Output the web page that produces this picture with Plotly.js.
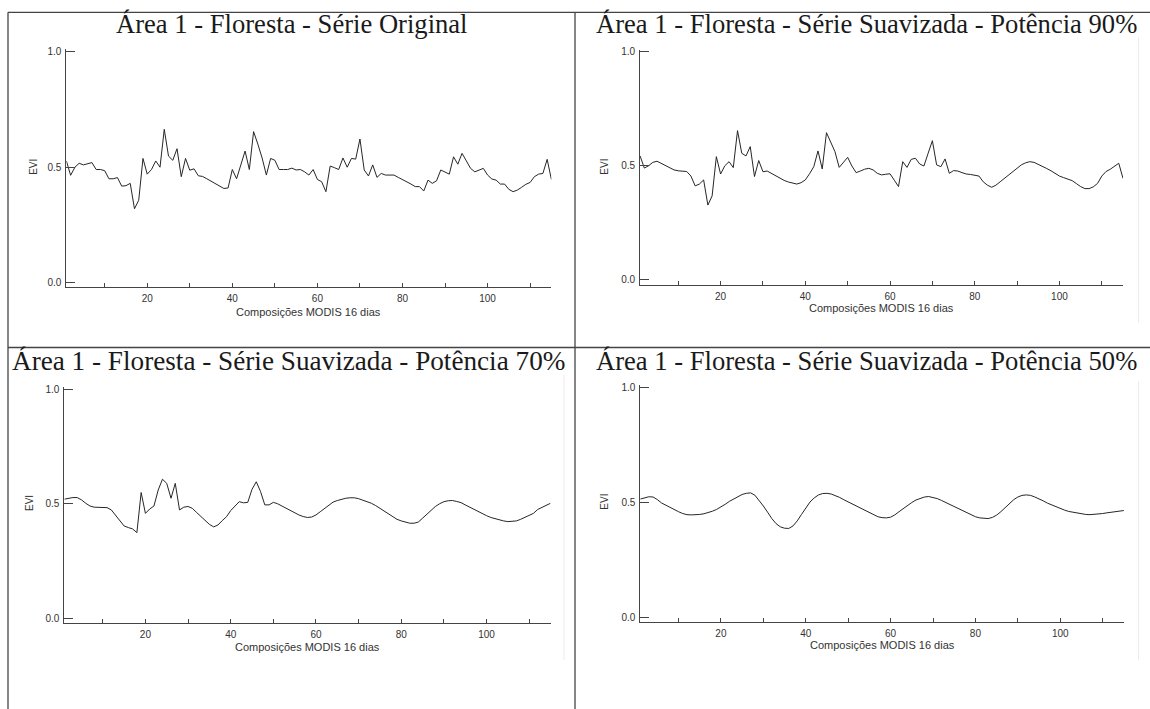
<!DOCTYPE html>
<html>
<head>
<meta charset="utf-8">
<script src="https://cdn.plot.ly/plotly-3.0.1.min.js"></script>
<style>html,body{margin:0;padding:0;background:#fff;}#chart{width:1150px;height:709px;}</style>
</head>
<body>
<div id="chart"></div>
<script>
// Composition index (MODIS 16-day composites)
var composicoes = [1,2,3,4,5,6,7,8,9,10,11,12,13,14,15,16,17,18,19,20,21,22,23,24,25,26,27,28,29,30,
31,32,33,34,35,36,37,38,39,40,41,42,43,44,45,46,47,48,49,50,51,52,53,54,55,56,57,58,59,60,
61,62,63,64,65,66,67,68,69,70,71,72,73,74,75,76,77,78,79,80,81,82,83,84,85,86,87,88,89,90,
91,92,93,94,95,96,97,98,99,100,101,102,103,104,105,106,107,108,109,110,111,112,113,114,115];

var serieOriginal = [0.527,0.465,0.50,0.517,0.51,0.515,0.52,0.49,0.49,0.485,
0.45,0.45,0.455,0.418,0.42,0.43,0.32,0.357,0.538,0.47,
0.49,0.527,0.50,0.664,0.548,0.53,0.58,0.459,0.538,0.487,
0.493,0.463,0.46,0.45,0.44,0.43,0.42,0.408,0.41,0.49,
0.45,0.51,0.57,0.49,0.654,0.60,0.54,0.466,0.538,0.53,
0.49,0.49,0.49,0.496,0.488,0.49,0.48,0.466,0.49,0.447,
0.437,0.394,0.505,0.498,0.49,0.54,0.50,0.538,0.535,0.622,
0.488,0.462,0.51,0.456,0.473,0.466,0.466,0.466,0.456,0.447,
0.437,0.427,0.416,0.416,0.397,0.444,0.43,0.441,0.488,0.48,
0.47,0.545,0.513,0.56,0.528,0.495,0.48,0.488,0.495,0.466,
0.449,0.444,0.427,0.427,0.404,0.394,0.401,0.413,0.426,0.434,
0.459,0.47,0.473,0.534,0.447];

var suavizada90 = [0.543,0.49,0.50,0.515,0.52,0.51,0.50,0.49,0.482,0.478,
0.477,0.475,0.455,0.412,0.42,0.438,0.328,0.368,0.54,0.464,
0.50,0.518,0.492,0.654,0.555,0.543,0.584,0.453,0.523,0.474,
0.477,0.467,0.455,0.444,0.436,0.429,0.424,0.42,0.426,0.438,
0.465,0.496,0.565,0.486,0.645,0.606,0.562,0.493,0.514,0.537,
0.499,0.47,0.477,0.485,0.489,0.482,0.467,0.46,0.463,0.465,
0.437,0.409,0.518,0.493,0.528,0.533,0.508,0.499,0.555,0.61,
0.504,0.496,0.53,0.467,0.479,0.477,0.47,0.464,0.462,0.46,
0.455,0.43,0.415,0.406,0.415,0.43,0.445,0.46,0.474,0.49,
0.504,0.513,0.518,0.515,0.507,0.497,0.488,0.478,0.465,0.455,
0.448,0.442,0.435,0.422,0.409,0.40,0.40,0.408,0.423,0.455,
0.475,0.485,0.498,0.511,0.445];

var suavizada70 = [0.52,0.525,0.527,0.527,0.517,0.502,0.49,0.485,0.484,0.484,
0.483,0.473,0.45,0.43,0.403,0.396,0.39,0.374,0.549,0.458,
0.477,0.49,0.56,0.607,0.589,0.524,0.589,0.473,0.485,0.488,
0.48,0.462,0.444,0.425,0.41,0.399,0.407,0.426,0.443,0.47,
0.49,0.509,0.504,0.506,0.563,0.596,0.553,0.495,0.495,0.506,
0.50,0.49,0.48,0.473,0.462,0.451,0.444,0.44,0.442,0.451,
0.465,0.48,0.495,0.507,0.514,0.52,0.524,0.526,0.526,0.522,
0.516,0.509,0.502,0.492,0.48,0.47,0.455,0.443,0.432,0.425,
0.419,0.415,0.415,0.42,0.437,0.455,0.47,0.488,0.50,0.509,
0.513,0.514,0.51,0.505,0.495,0.485,0.475,0.465,0.455,0.448,
0.44,0.434,0.429,0.425,0.422,0.422,0.425,0.432,0.44,0.45,
0.458,0.475,0.485,0.495,0.502];

var suavizada50 = [0.515,0.521,0.525,0.524,0.513,0.498,0.488,0.478,0.468,0.46,
0.452,0.447,0.446,0.446,0.448,0.451,0.456,0.462,0.47,0.48,
0.492,0.505,0.516,0.527,0.535,0.54,0.542,0.532,0.51,0.485,
0.458,0.43,0.408,0.394,0.388,0.387,0.398,0.42,0.448,0.477,
0.502,0.52,0.533,0.539,0.54,0.537,0.531,0.522,0.512,0.503,
0.494,0.485,0.476,0.466,0.455,0.446,0.438,0.434,0.433,0.436,
0.446,0.46,0.474,0.488,0.50,0.511,0.519,0.524,0.526,0.523,
0.517,0.509,0.50,0.491,0.482,0.473,0.464,0.454,0.445,0.438,
0.433,0.43,0.43,0.435,0.445,0.46,0.477,0.495,0.512,0.524,
0.531,0.533,0.531,0.524,0.517,0.507,0.497,0.489,0.481,0.474,
0.467,0.461,0.457,0.454,0.451,0.448,0.447,0.448,0.45,0.452,
0.455,0.458,0.461,0.463,0.465];

var titulos = ["Área 1 - Floresta - Série Original",
               "Área 1 - Floresta - Série Suavizada - Potência 90%",
               "Área 1 - Floresta - Série Suavizada - Potência 70%",
               "Área 1 - Floresta - Série Suavizada - Potência 50%"];
var xTitulo = "Composições MODIS 16 dias";
var yTitulo = "EVI";
var xTickVals = [10,20,30,40,50,60,70,80,90,100,110];
var xTickText = ["","20","","40","","60","","80","","100",""];
var yTickVals = [0,0.5,1.0];
var yTickText = ["0.0","0.5","1.0"];

var W = 1150, H = 709;
function px(x){return x/W;}
function py(y){return 1 - y/H;}

// panel geometry in pixels: [xLeft, xRight, yTop, yBottom, yMin, yMax]
var geo = [
  [66.4, 551.4, 48.5, 287.3, -0.020, 1.014],
  [640.1, 1123.0, 50.0, 285.0, -0.022, 1.007],
  [64.4, 550.5, 386.7, 623.3, -0.022, 1.011],
  [640.3, 1123.9, 385.0, 622.3, -0.022, 1.012]
];
var series = [serieOriginal, suavizada90, suavizada70, suavizada50];

var data = [];
var layout = {
  width: W, height: H,
  margin: {l:0, r:0, t:0, b:0},
  paper_bgcolor: '#ffffff', plot_bgcolor: 'rgba(0,0,0,0)',
  showlegend: false,
  annotations: [], shapes: []
};
var tickFont = {family: 'Liberation Sans, Arial, sans-serif', size: 10, color: '#333'};

for (var i = 0; i < 4; i++) {
  var g = geo[i];
  var xa = 'xaxis' + (i === 0 ? '' : (i + 1));
  var ya = 'yaxis' + (i === 0 ? '' : (i + 1));
  data.push({
    type: 'scatter', mode: 'lines',
    x: composicoes, y: series[i],
    xaxis: 'x' + (i === 0 ? '' : (i + 1)),
    yaxis: 'y' + (i === 0 ? '' : (i + 1)),
    line: {color: '#262626', width: 1},
    hoverinfo: 'x+y'
  });
  layout[xa] = {
    domain: [px(g[0]), px(g[1])],
    anchor: 'y' + (i === 0 ? '' : (i + 1)),
    range: [1, 115],
    showline: true, linecolor: '#444', linewidth: 1,
    showgrid: false, zeroline: false,
    ticks: 'inside', ticklen: 4, tickcolor: '#444', tickwidth: 1,
    tickmode: 'array', tickvals: xTickVals, ticktext: xTickText,
    tickfont: tickFont, ticklabelstandoff: 2
  };
  layout[ya] = {
    domain: [py(g[3]), py(g[2])],
    anchor: 'x' + (i === 0 ? '' : (i + 1)),
    range: [g[4], g[5]],
    showline: true, linecolor: '#444', linewidth: 1,
    showgrid: false, zeroline: false,
    ticks: 'inside', ticklen: 9, tickcolor: '#444', tickwidth: 1,
    tickmode: 'array', tickvals: yTickVals, ticktext: yTickText,
    tickfont: tickFont, ticklabelstandoff: 2
  };
}

// titles and axis titles
var titlePos = [[291.5, 24, 26.6], [866, 24, 26.6], [288, 361, 27.2], [866, 361, 26.6]];
var xtPos = [[308.9, 311.5], [881.5, 307.5], [307.4, 646.5], [882, 645]];
var ytPos = [[33.5, 167.3], [605, 166.7], [29, 503], [605, 501.7]];
for (var j = 0; j < 4; j++) {
  layout.annotations.push({
    text: titulos[j], xref: 'paper', yref: 'paper',
    x: px(titlePos[j][0]), y: py(titlePos[j][1]),
    xanchor: 'center', yanchor: 'middle', showarrow: false,
    font: {family: 'Liberation Serif, Times New Roman, serif', size: titlePos[j][2], color: '#1a1a1a'}
  });
  layout.annotations.push({
    text: xTitulo, xref: 'paper', yref: 'paper',
    x: px(xtPos[j][0]), y: py(xtPos[j][1]),
    xanchor: 'center', yanchor: 'middle', showarrow: false,
    font: {family: 'Liberation Sans, Arial, sans-serif', size: 11, color: '#333'}
  });
  layout.annotations.push({
    text: yTitulo, xref: 'paper', yref: 'paper',
    x: px(ytPos[j][0]), y: py(ytPos[j][1]),
    xanchor: 'center', yanchor: 'middle', showarrow: false, textangle: -90,
    font: {family: 'Liberation Sans, Arial, sans-serif', size: 10, color: '#333'}
  });
}

// table borders
var bc = '#444', bw = 1.3;
layout.shapes.push({type:'line', xref:'paper', yref:'paper', x0:px(8), x1:1, y0:py(12.3), y1:py(12.3), line:{color:bc, width:bw}});
layout.shapes.push({type:'line', xref:'paper', yref:'paper', x0:px(8), x1:1, y0:py(347.5), y1:py(347.5), line:{color:bc, width:bw}});
layout.shapes.push({type:'line', xref:'paper', yref:'paper', x0:px(8), x1:px(8), y0:py(12.3), y1:0, line:{color:bc, width:bw}});
layout.shapes.push({type:'line', xref:'paper', yref:'paper', x0:px(575), x1:px(575), y0:py(12.3), y1:0, line:{color:bc, width:bw}});
// faint image edges
var fc = '#ececec';
layout.shapes.push({type:'line', xref:'paper', yref:'paper', x0:px(1138.6), x1:px(1138.6), y0:py(37), y1:py(323), line:{color:fc, width:1}});
layout.shapes.push({type:'line', xref:'paper', yref:'paper', x0:px(564), x1:px(564), y0:py(375), y1:py(660), line:{color:fc, width:1}});
layout.shapes.push({type:'line', xref:'paper', yref:'paper', x0:px(1138.6), x1:px(1138.6), y0:py(381), y1:py(660), line:{color:fc, width:1}});

Plotly.newPlot('chart', data, layout, {displayModeBar: false, staticPlot: true});
</script>
</body>
</html>
